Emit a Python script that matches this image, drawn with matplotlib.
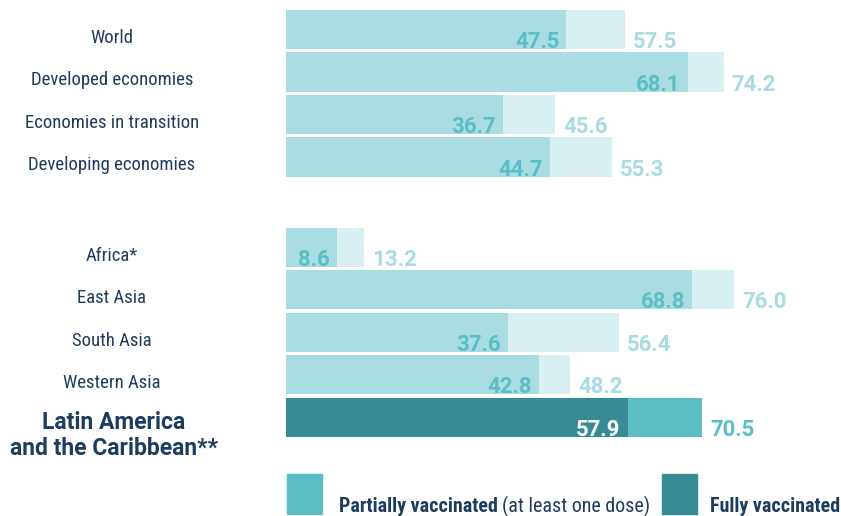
import matplotlib
matplotlib.use("Agg")
import matplotlib.pyplot as plt
from matplotlib.patches import Rectangle

categories = ["World", "Developed economies", "Economies in transition",
              "Developing economies", "Africa*", "East Asia", "South Asia",
              "Western Asia", "Latin America\nand the Caribbean**"]
fully = [47.5, 68.1, 36.7, 44.7, 8.6, 68.8, 37.6, 42.8, 57.9]
partial = [57.5, 74.2, 45.6, 55.3, 13.2, 76.0, 56.4, 48.2, 70.5]
positions = [0, 1, 2, 3, 5.12, 6.12, 7.12, 8.12, 9.12]
highlight = 8

FONT = "Roboto Condensed"
navy = "#1c3d5e"
full_hi, part_hi = "#378a96", "#5bbdc6"
full_lo, part_lo = "#aadde2", "#d9f0f2"
lab_full_lo, lab_part_lo = "#5bbdc6", "#a8dce2"

fig = plt.figure(figsize=(8.41, 5.16), dpi=100)
ax = fig.add_axes([286 / 841, 0, 531 / 841, 1])
ax.set_xlim(0, 90)
ax.set_ylim(11.447, -0.694)
ax.axis("off")

pc = [part_hi if i == highlight else part_lo for i in range(len(categories))]
fc = [full_hi if i == highlight else full_lo for i in range(len(categories))]
ax.barh(positions, partial, height=0.92, color=pc)
ax.barh(positions, fully, height=0.92, color=fc)

ytr = ax.get_yaxis_transform()
for i, (p, f, y) in enumerate(zip(partial, fully, positions)):
    hi = i == highlight
    ax.annotate(f"{f:.1f}", xy=(f, y + 0.46), xytext=(-7, 1), textcoords="offset pixels",
                ha="right", va="baseline", fontsize=16, fontweight="bold",
                family="Roboto", color="white" if hi else lab_full_lo)
    ax.annotate(f"{p:.1f}", xy=(p, y + 0.46), xytext=(8, 1), textcoords="offset pixels",
                ha="left", va="baseline", fontsize=16, fontweight="bold",
                family="Roboto", color=part_hi if hi else lab_part_lo)
    if hi:
        for k, line in enumerate(categories[i].split("\n")):
            ax.text(-0.324, y + (11.5 + 26 * k) / 42.5, line, transform=ytr,
                    ha="center", va="baseline", fontsize=16.5, fontweight="bold",
                    family="Roboto", color=navy)
    else:
        ax.text(-0.328, y + 13.5 / 42.5, categories[i], transform=ytr,
                ha="center", va="baseline", fontsize=13.5, family=FONT, color=navy)

# legend
fig.add_artist(Rectangle((287 / 841, 2 / 516), 35 / 841, 40 / 516,
                         transform=fig.transFigure, color=part_hi))
fig.add_artist(Rectangle((662 / 841, 2 / 516), 35 / 841, 40 / 516,
                         transform=fig.transFigure, color=full_hi))
t1 = fig.text(339 / 841, 4 / 516, "Partially vaccinated", fontsize=14.4, fontweight="bold",
              family=FONT, color=navy, va="baseline")
fig.canvas.draw()
bb = t1.get_window_extent()
fig.text((bb.x1 + 4) / 841, 4 / 516, "(at least one dose)", fontsize=14.4,
         family=FONT, color=navy, va="baseline")
fig.text(710 / 841, 4 / 516, "Fully vaccinated", fontsize=14.4, fontweight="bold",
         family=FONT, color=navy, va="baseline")

fig.savefig("out.png", dpi=100)
